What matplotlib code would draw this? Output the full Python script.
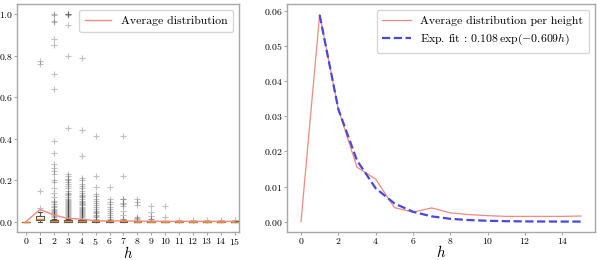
import numpy as np
import matplotlib
matplotlib.use('Agg')
import matplotlib.pyplot as plt

plt.rcParams['font.family'] = 'serif'
plt.rcParams['font.serif'] = ['cmr10']
plt.rcParams['mathtext.fontset'] = 'cm'
plt.rcParams['axes.formatter.use_mathtext'] = True

# heights
heights = list(range(16))

# average distribution per height
avg_dist = [0.0, 0.059, 0.032, 0.0155, 0.0121, 0.0040, 0.0027, 0.0039,
            0.0025, 0.0020, 0.0017, 0.0015, 0.0015, 0.0015, 0.0015, 0.0016]

# exponential fit read at integer heights (h = 1..15)
fit_h = list(range(1, 16))
fit_vals = [0.0588, 0.0320, 0.0174, 0.0095, 0.0052, 0.0028, 0.0015, 0.0008,
            0.00045, 0.00025, 0.00013, 0.00007, 0.00004, 0.00002, 0.00001]

# box statistics per height
box_q1 = [0.0, 0.006, 0.0, 0.0, 0.0, 0.0, 0.0, 0.0, 0.0, 0.0, 0.0, 0.0, 0.0, 0.0, 0.0, 0.0]
box_med = [0.0, 0.012, 0.002, 0.002, 0.002, 0.001, 0.001, 0.001, 0.0, 0.0, 0.0, 0.0, 0.0, 0.0, 0.0, 0.0]
box_q3 = [0.0, 0.028, 0.006, 0.006, 0.006, 0.004, 0.004, 0.004, 0.003, 0.003, 0.003, 0.003, 0.003, 0.003, 0.003, 0.003]
box_whishi = [0.0, 0.045, 0.012, 0.012, 0.012, 0.008, 0.007, 0.007, 0.005, 0.005, 0.004, 0.004, 0.004, 0.004, 0.004, 0.004]

# outliers per height
fliers = [
    [],
    [0.064, 0.148, 0.76, 0.775],
    [1.0, 0.995, 0.97, 0.965, 0.88, 0.85, 0.71, 0.64, 0.39, 0.33, 0.28, 0.26,
     0.245, 0.23, 0.20, 0.19, 0.16, 0.14, 0.12, 0.10, 0.095, 0.085, 0.075, 0.07,
     0.06, 0.055, 0.05, 0.045, 0.04, 0.035, 0.03, 0.025, 0.02, 0.015],
    [1.0, 1.0, 1.0, 0.998, 0.95, 0.80, 0.45, 0.23, 0.22, 0.205, 0.20, 0.19, 0.18,
     0.17, 0.16, 0.15, 0.14, 0.135, 0.13, 0.12, 0.11, 0.105, 0.10, 0.095, 0.09,
     0.085, 0.08, 0.075, 0.07, 0.065, 0.06, 0.055, 0.05, 0.045, 0.04, 0.035,
     0.03, 0.025, 0.02, 0.018, 0.015],
    [0.79, 0.44, 0.315, 0.21, 0.20, 0.18, 0.17, 0.16, 0.15, 0.14, 0.13, 0.125,
     0.12, 0.11, 0.10, 0.095, 0.09, 0.085, 0.08, 0.07, 0.065, 0.06, 0.055, 0.05,
     0.045, 0.04, 0.035, 0.03, 0.025, 0.02, 0.015],
    [0.415, 0.22, 0.165, 0.135, 0.125, 0.11, 0.10, 0.09, 0.08, 0.07, 0.06,
     0.05, 0.045, 0.04, 0.03, 0.025, 0.02, 0.015, 0.01],
    [0.165, 0.11, 0.095, 0.085, 0.07, 0.06, 0.05, 0.04, 0.03, 0.02, 0.015, 0.01],
    [0.415, 0.22, 0.11, 0.108, 0.09, 0.085, 0.075, 0.05, 0.03, 0.015, 0.012],
    [0.11, 0.095, 0.08, 0.02, 0.017, 0.015],
    [0.075, 0.045, 0.025, 0.015, 0.012],
    [0.075, 0.02],
    [0.007], [0.007], [0.006], [0.006], [0.007],
]

fig = plt.figure(figsize=(5.97, 2.6), dpi=100)
ax1 = fig.add_axes([17 / 597, 28 / 260, 222 / 597, 228 / 260])
ax2 = fig.add_axes([287 / 597, 28 / 260, 308 / 597, 228 / 260])

frame_col = '#a8a8a8'
red = '#f08a80'
blue = '#4848e0'

# left: boxplots of distributions per height
stats = []
for i, h in enumerate(heights):
    stats.append(dict(q1=box_q1[i], med=box_med[i], q3=box_q3[i],
                      whislo=0.0, whishi=box_whishi[i], fliers=fliers[i]))
ax1.bxp(stats, positions=heights, widths=0.55, manage_ticks=False,
        boxprops=dict(color='#555555', linewidth=0.8),
        whiskerprops=dict(color='#555555', linewidth=0.8),
        capprops=dict(color='#555555', linewidth=0.8),
        medianprops=dict(color='#e08a30', linewidth=1.0),
        flierprops=dict(marker='+', markeredgecolor='#333333', alpha=0.3,
                        markersize=4, markeredgewidth=0.8))
ax1.plot(heights, avg_dist, color=red, linewidth=1.0, label='Average distribution')
ax1.set_xticks(heights)
ax1.set_xlim(-0.65, 15.3)
ax1.set_ylim(-0.05, 1.05)
ax1.set_yticks([0.0, 0.2, 0.4, 0.6, 0.8, 1.0])
ax1.set_xlabel('$h$', fontsize=10.5, labelpad=-1.5)
ax1.tick_params(labelsize=7, length=2, color=frame_col, pad=0.8)
ax1.legend(loc='upper right', fontsize=8.5, handlelength=2.2, borderpad=0.5)

# right: average distribution and exponential fit
ax2.plot(heights, avg_dist, color=red, linewidth=0.9, label='Average distribution per height')
ax2.plot(fit_h, fit_vals, color=blue, linewidth=1.6, linestyle='--',
         label=r'Exp. fit : $0.108\,\exp(-0.609h)$')
ax2.set_xticks([0, 2, 4, 6, 8, 10, 12, 14])
ax2.set_xlabel('$h$', fontsize=11, labelpad=-1.5)
ax2.tick_params(labelsize=7, length=2, color=frame_col, pad=1)
ax2.legend(loc='upper right', fontsize=8.5, handlelength=2.4, borderpad=0.5)

for ax in (ax1, ax2):
    for s in ax.spines.values():
        s.set_color(frame_col)
        s.set_linewidth(1.0)

fig.savefig('out.png', dpi=100)
